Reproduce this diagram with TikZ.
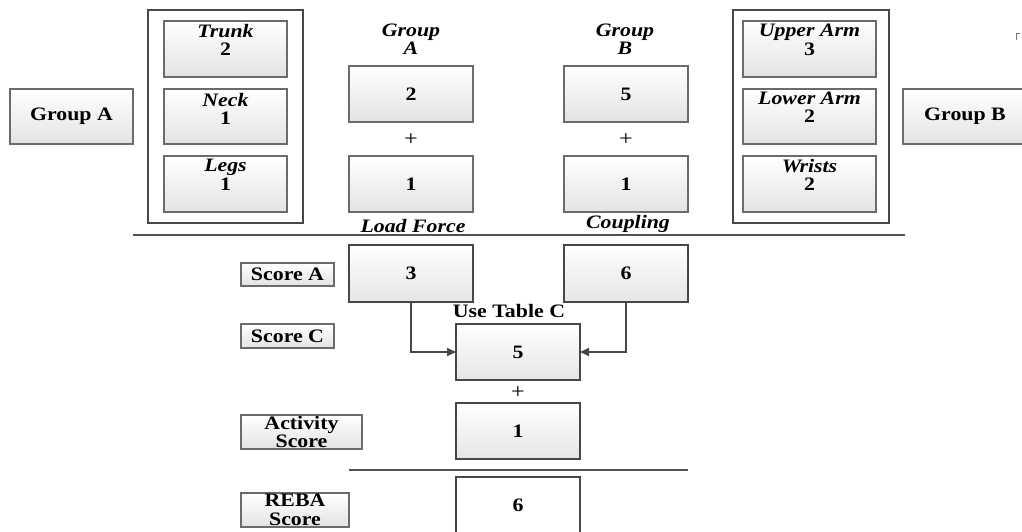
\documentclass[tikz,border=0pt]{standalone}
\usepackage{fontspec}
\setmainfont{Liberation Serif}[FakeStretch=1.15]
\usetikzlibrary{arrows.meta}
\begin{document}
\begin{tikzpicture}[x=1pt,y=-1pt,
  every node/.style={inner sep=0pt, outer sep=0pt,
    font=\fontsize{19}{18.5}\selectfont\bfseries},
  thinbox/.style={draw=black!58, line width=1.1pt, top color=white,
    bottom color=black!11},
  thickbox/.style={draw=black!72, line width=2pt, top color=white,
    bottom color=black!10},
  whitebox/.style={draw=black!72, line width=2pt, fill=white},
  frame/.style={draw=black!72, line width=2.6pt},
  rule/.style={draw=black!68, line width=1.8pt},
  conn/.style={draw=black!72, line width=1.8pt,
    -{Triangle[length=9pt,width=8pt]}},
  txt/.style={align=center},
  plus/.style={font=\fontsize{21}{21}\selectfont}
]
\useasboundingbox (0,0) rectangle (1022,532);
\clip (0,0) rectangle (1022,532);

% ---- Group A side ----
\node[thinbox, minimum width=123, minimum height=55] (grpA) at (71.5,116.5) {Group A};
\node[frame, minimum width=155, minimum height=213] (frameL) at (225.5,116.5) {};
\node[thinbox, minimum width=123, minimum height=56] (trunk) at (225.5,49) {};
\node[thinbox, minimum width=123, minimum height=55] (neck) at (225.5,116.5) {};
\node[thinbox, minimum width=123, minimum height=56] (legs) at (225.5,184) {};
\node[txt] (trunkT) at (225.5,40) {\textit{Trunk}\\2};
\node[txt] (neckT) at (225.5,109) {\textit{Neck}\\1};
\node[txt] (legsT) at (225.5,175) {\textit{Legs}\\1};

% ---- Group A / Load Force column ----
\node[txt] (gaT) at (411,39) {\textit{Group}\\\textit{A}};
\node[thinbox, minimum width=124, minimum height=56] (ga) at (411,94) {2};
\node[plus] (plusA) at (411,140) {+};
\node[thinbox, minimum width=124, minimum height=56] (lf) at (411,184) {1};
\node (lfT) at (413,226) {\textit{Load Force}};

% ---- Group B / Coupling column ----
\node[txt] (gbT) at (625,39) {\textit{Group}\\\textit{B}};
\node[thinbox, minimum width=124, minimum height=56] (gb) at (626,94) {5};
\node[plus] (plusB) at (626,140) {+};
\node[thinbox, minimum width=124, minimum height=56] (cp) at (626,184) {1};
\node (cpT) at (628,224) {\textit{Coupling}};

% ---- Group B side ----
\node[frame, minimum width=156, minimum height=213] (frameR) at (811,116.5) {};
\node[thinbox, minimum width=133, minimum height=56] (upper) at (809.5,49) {};
\node[thinbox, minimum width=133, minimum height=55] (lower) at (809.5,116.5) {};
\node[thinbox, minimum width=133, minimum height=56] (wrists) at (809.5,184) {};
\node[txt] (upperT) at (809.5,40) {\textit{Upper Arm}\\3};
\node[txt] (lowerT) at (809.5,107) {\textit{Lower Arm}\\2};
\node[txt] (wristsT) at (809.5,175) {\textit{Wrists}\\2};
\node[thinbox, minimum width=124, minimum height=55] (grpB) at (965,116.5) {Group B};
\draw[draw=black!55, line width=0.9pt] (1016,40) -- (1016,33.5) -- (1019.5,33.5);

% ---- separator ----
\coordinate (r1a) at (133,235);
\coordinate (r1b) at (905,235);
\draw[rule] (r1a) -- (r1b);

% ---- scores ----
\node[thinbox, minimum width=93, minimum height=23] (scA) at (287.5,274.5) {Score A};
\node[thickbox, minimum width=124, minimum height=57] (s3) at (411,273.5) {3};
\node[thickbox, minimum width=124, minimum height=57] (s6) at (626,273.5) {6};
\node (tblC) at (509,311) {Use Table C};
\node[thinbox, minimum width=93, minimum height=24] (scC) at (287.5,336) {Score C};
\node[thickbox, minimum width=124, minimum height=56] (s5) at (518,352) {5};
\draw[conn] (s3.south) |- (s5.west);
\draw[conn] (s6.south) |- (s5.east);
\node[plus] (plusC) at (518,393) {+};
\node[thickbox, minimum width=124, minimum height=56] (act) at (518,431) {1};
\node[thinbox, minimum width=121, minimum height=34] (actL) at (301.5,432) {};
\node[txt] (actT) at (301.5,432) {Activity\\Score};

\coordinate (r2a) at (349,470);
\coordinate (r2b) at (688,470);
\draw[rule] (r2a) -- (r2b);

\node[whitebox, minimum width=124, minimum height=60] (reba) at (518,507) {};
\node (rebaV) at (518,505) {6};
\node[thinbox, minimum width=108, minimum height=34] (rebaL) at (295,510) {};
\node[txt] (rebaT) at (295,510) {REBA\\Score};
\end{tikzpicture}
\end{document}
